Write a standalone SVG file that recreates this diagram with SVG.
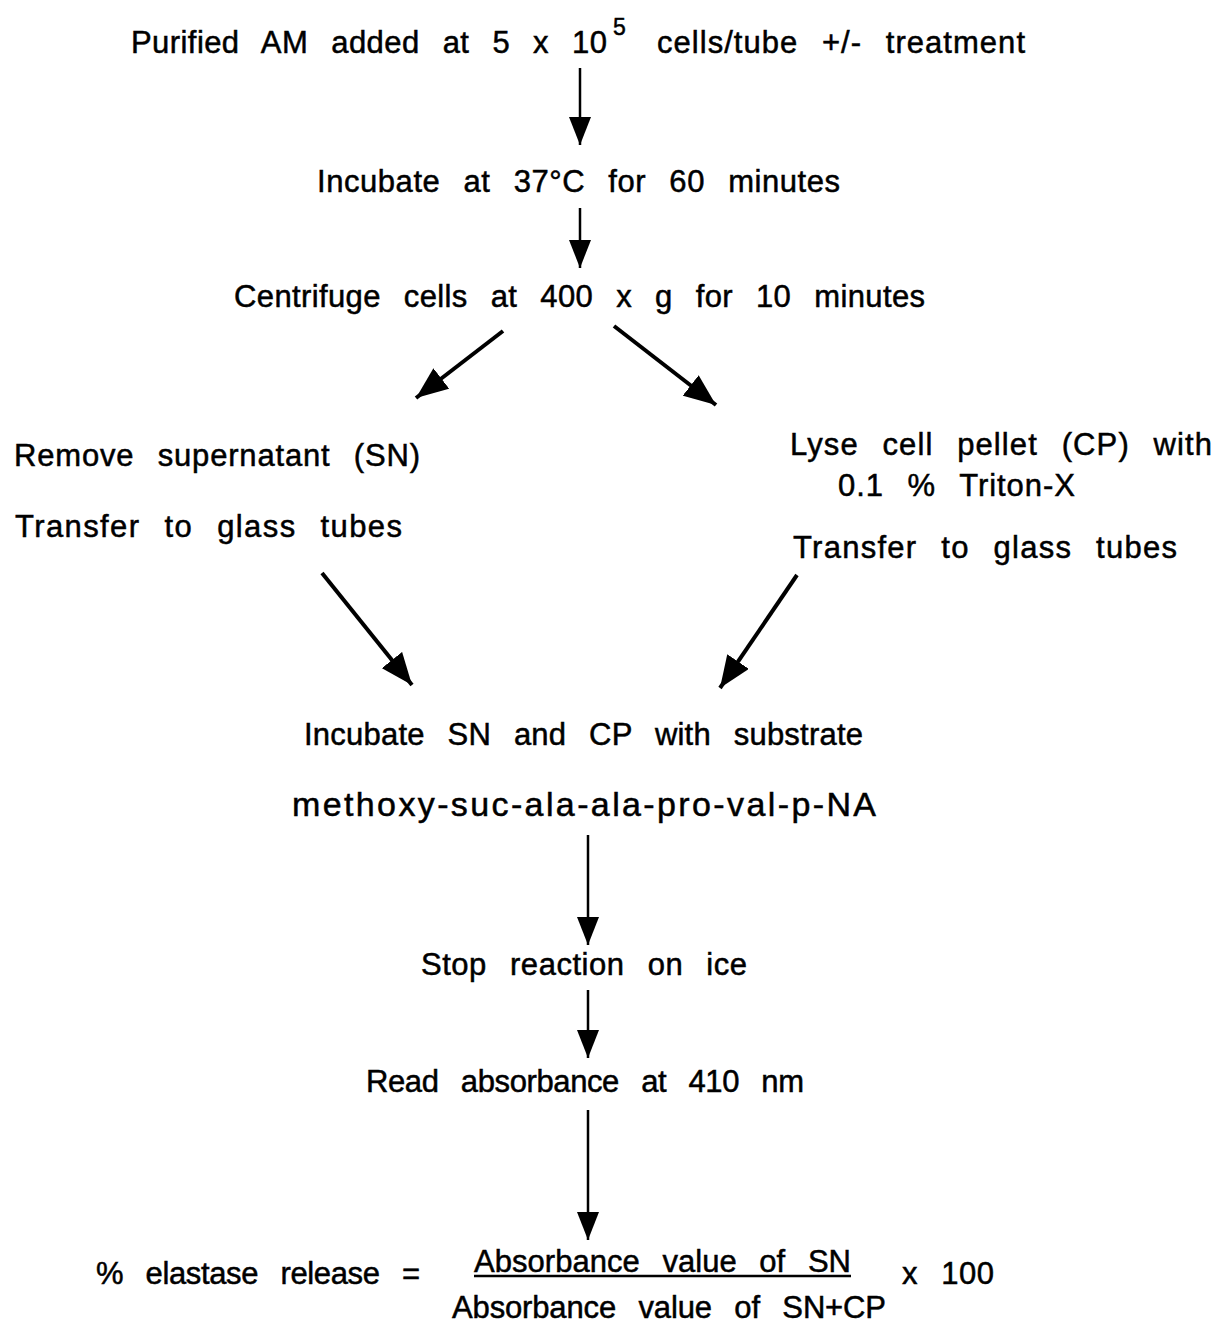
<svg xmlns="http://www.w3.org/2000/svg" width="1216" height="1323" viewBox="0 0 1216 1323">
  <style>
    text { font-family: "Liberation Sans", Arial, sans-serif; font-size: 31px; fill: #000; stroke: #000; stroke-width: 0.5; word-spacing: 14px; }
    .conn line { stroke: #000; stroke-width: 2.5; }
    .conn line.d { stroke-width: 4; }
  </style>
  <defs>
    <marker id="ah" viewBox="0 0 28 22" refX="28" refY="11" markerWidth="28" markerHeight="22" markerUnits="userSpaceOnUse" orient="auto">
      <path d="M0,0 L28,11 L0,22 z" fill="#000"/>
    </marker>
    <marker id="ahd" viewBox="0 0 32 26" refX="32" refY="13" markerWidth="32" markerHeight="26" markerUnits="userSpaceOnUse" orient="auto">
      <path d="M0,0 L32,13 L0,26 z" fill="#000"/>
    </marker>
  </defs>
  <rect width="1216" height="1323" fill="#fff"/>

  <g id="n1">
    <text x="131" y="53" textLength="476" lengthAdjust="spacing">Purified AM added at 5 x 10</text>
    <text x="613" y="35" style="font-size:23px">5</text>
    <text x="657" y="53" textLength="368" lengthAdjust="spacing">cells/tube +/- treatment</text>
  </g>
  <g id="n2"><text x="317" y="192" textLength="523" lengthAdjust="spacing">Incubate at 37°C for 60 minutes</text></g>
  <g id="n3"><text x="234" y="307" textLength="691" lengthAdjust="spacing">Centrifuge cells at 400 x g for 10 minutes</text></g>
  <g id="n4">
    <text x="14" y="466" textLength="406" lengthAdjust="spacing">Remove supernatant (SN)</text>
    <text x="15" y="537" textLength="387" lengthAdjust="spacing">Transfer to glass tubes</text>
  </g>
  <g id="n5">
    <text x="790" y="455" textLength="422" lengthAdjust="spacing">Lyse cell pellet (CP) with</text>
    <text x="838" y="496" textLength="237" lengthAdjust="spacing">0.1 % Triton-X</text>
    <text x="793" y="558" textLength="384" lengthAdjust="spacing">Transfer to glass tubes</text>
  </g>
  <g id="n6">
    <text x="304" y="745" textLength="559" lengthAdjust="spacing">Incubate SN and CP with substrate</text>
    <text x="292" y="816" textLength="584" lengthAdjust="spacing" style="word-spacing:0;font-size:34px">methoxy-suc-ala-ala-pro-val-p-NA</text>
  </g>
  <g id="n7"><text x="421" y="975" textLength="326" lengthAdjust="spacing">Stop reaction on ice</text></g>
  <g id="n8"><text x="366" y="1092" textLength="438" lengthAdjust="spacing">Read absorbance at 410 nm</text></g>
  <g id="n9">
    <text x="96" y="1284" textLength="324" lengthAdjust="spacing">% elastase release =</text>
    <text x="474" y="1272" textLength="377" lengthAdjust="spacing">Absorbance value of SN</text>
    <line x1="474" y1="1276" x2="851" y2="1276" stroke="#000" stroke-width="2.5"/>
    <text x="902" y="1284" textLength="92" lengthAdjust="spacing">x 100</text>
    <text x="452" y="1318" textLength="434" lengthAdjust="spacing">Absorbance value of SN+CP</text>
  </g>

  <g id="connectors" class="conn">
    <line x1="580" y1="68" x2="580" y2="145" marker-end="url(#ah)"/>
    <line x1="580" y1="208" x2="580" y2="268" marker-end="url(#ah)"/>
    <line class="d" x1="503" y1="331" x2="416" y2="398" marker-end="url(#ahd)"/>
    <line class="d" x1="614" y1="326" x2="716" y2="405" marker-end="url(#ahd)"/>
    <line class="d" x1="322" y1="573" x2="412" y2="685" marker-end="url(#ahd)"/>
    <line class="d" x1="797" y1="575" x2="720" y2="688" marker-end="url(#ahd)"/>
    <line x1="588" y1="835" x2="588" y2="945" marker-end="url(#ah)"/>
    <line x1="588" y1="990" x2="588" y2="1058" marker-end="url(#ah)"/>
    <line x1="588" y1="1110" x2="588" y2="1240" marker-end="url(#ah)"/>
  </g>
</svg>
